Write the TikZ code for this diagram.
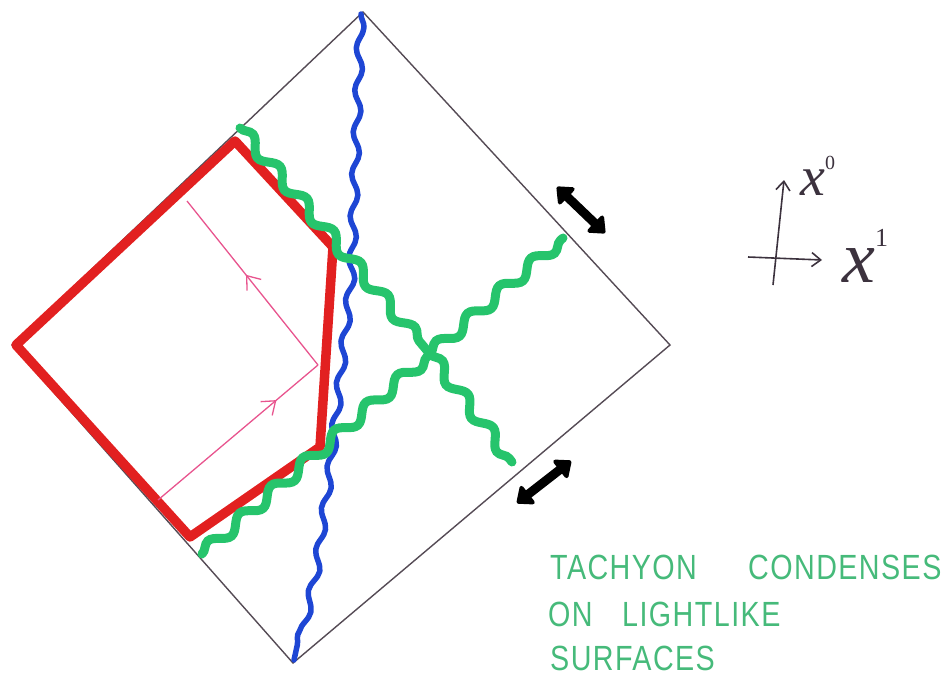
\documentclass[tikz,border=0pt]{standalone}
\usepackage{fontspec}
\setmainfont{Liberation Sans}
\newfontfamily\axfont{Liberation Serif}
\usetikzlibrary{decorations.pathmorphing,decorations.markings,arrows.meta}
\definecolor{edgegray}{RGB}{85,75,85}
\definecolor{redpen}{RGB}{226,32,32}
\definecolor{bluepen}{RGB}{30,70,212}
\definecolor{greenpen}{RGB}{38,196,108}
\definecolor{pinkpen}{RGB}{232,84,142}
\definecolor{textgreen}{RGB}{70,186,122}
\definecolor{axisgray}{RGB}{60,50,62}
\tikzset{
  edgeline/.style={draw=edgegray,line width=1.4pt},
  redwall/.style={draw=redpen,line width=9.5pt,line join=round,line cap=round},
  bluewave/.style={draw=bluepen,line width=5.5pt,line cap=round,line join=round,
    decorate,decoration={snake,segment length=42pt,amplitude=3.5pt}},
  greenwave/.style={draw=greenpen,line width=9pt,line cap=round,
    decorate,decoration={snake,segment length=42pt,amplitude=6pt}},
  pinkray/.style={draw=pinkpen,line width=1.3pt},
  dblarrow/.style={draw=black,line width=9pt,
    {Triangle[length=16pt,width=26pt,round]}-{Triangle[length=16pt,width=26pt,round]}},
  axisline/.style={draw=axisgray,line width=1.6pt,-{Straight Barb[length=9pt,width=14pt]}},
  hand/.style={text=textgreen,font=\fontsize{35}{35}\selectfont\addfontfeature{LetterSpace=5},
    anchor=base west,inner sep=0pt,xscale=0.82,transform shape},
  axislabel/.style={text=axisgray,inner sep=0pt,anchor=base west}
}
\begin{document}
\begin{tikzpicture}[x=1pt,y=-1pt]
\useasboundingbox (0,0) rectangle (947,690);
% diamond vertices
\coordinate (T) at (363,12);
\coordinate (R) at (670,345);
\coordinate (B) at (293,663);
\coordinate (L) at (12,345);
\draw[edgeline] (L) -- (T) -- (R) -- (B) -- cycle;
% red polygon
\coordinate (r1) at (235,141);
\coordinate (r2) at (333,247);
\coordinate (r3) at (320,447);
\coordinate (r4) at (190,537);
\coordinate (r5) at (16,345);
\draw[redwall] (r1) -- (r2) -- (r3) -- (r4) -- (r5) -- cycle;
% pink rays
\coordinate (p1) at (158,500);
\coordinate (p2) at (318,365);
\coordinate (p3) at (187,201);
\draw[pinkray,postaction={decorate},decoration={markings,
  mark=at position 0.74 with {\arrow{Straight Barb[length=12pt,width=18pt,line width=1.3pt]}}}]
  (p1) -- (p2);
\draw[pinkray,postaction={decorate},decoration={markings,
  mark=at position 0.55 with {\arrow{Straight Barb[length=12pt,width=18pt,line width=1.3pt]}}}]
  (p2) -- (p3);
% blue wavy line
\coordinate (b0) at (361,14);
\coordinate (b9) at (294,660);
\draw[bluewave] (b0) -- (356,150) -- (352,260) -- (341,360) -- (331,450) -- (316,560) -- (b9);
% green wavy lines
\coordinate (g1) at (240,128);
\coordinate (gc) at (430,354);
\coordinate (g2) at (512,462);
\coordinate (g3) at (202,554);
\coordinate (g4) at (563,238);
\draw[greenwave] (g1) -- (gc);
\draw[greenwave] (gc) -- (g2);
\draw[greenwave] (g3) -- (gc);
\draw[greenwave] (gc) -- (g4);
% double arrows
\coordinate (da1) at (557,187);
\coordinate (da2) at (605,233);
\coordinate (db1) at (517,503);
\coordinate (db2) at (571,461);
\draw[dblarrow] (da1) -- (da2);
\draw[dblarrow] (db1) -- (db2);
% axes
\coordinate (ax0a) at (773,285);
\coordinate (ax0b) at (784,180);
\coordinate (ax1a) at (748,257);
\coordinate (ax1b) at (822,260);
\draw[axisline] (ax0a) -- (ax0b);
\draw[axisline] (ax1a) -- (ax1b);
\node[axislabel] (lx0) at (800,195)
  {\axfont\fontsize{56}{56}\selectfont\itshape x\raisebox{26pt}{\fontsize{20}{20}\selectfont\upshape 0}};
\node[axislabel] (lx1) at (842,282)
  {\axfont\fontsize{74}{74}\selectfont\itshape x\raisebox{36pt}{\fontsize{26}{26}\selectfont\upshape 1}};
% text
\node[hand] (t1) at (550,579) {TACHYON};
\node[hand] (t2) at (748,579) {CONDENSES};
\node[hand] (t3) at (548,626) {ON};
\node[hand] (t4) at (622,626) {LIGHTLIKE};
\node[hand] (t5) at (550,670) {SURFACES};
\end{tikzpicture}
\end{document}
